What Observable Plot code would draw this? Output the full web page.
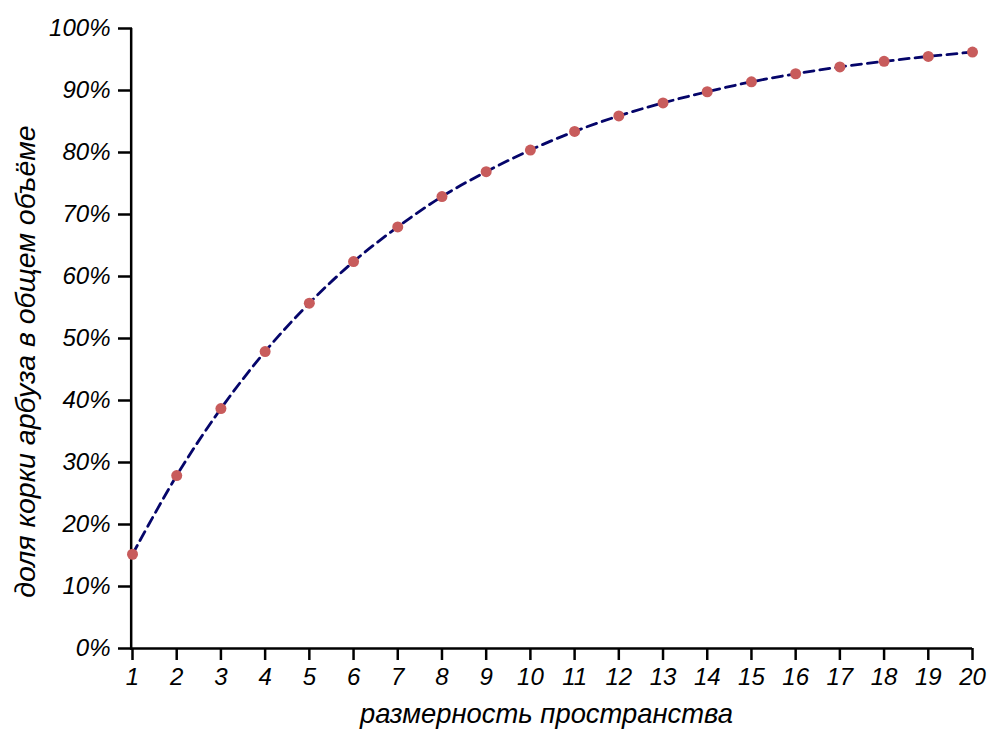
<!DOCTYPE html>
<html><head><meta charset="utf-8">
<script src="https://cdn.jsdelivr.net/npm/d3@7"></script>
<script src="https://cdn.jsdelivr.net/npm/@observablehq/plot@0.6"></script>
<style>
html,body{margin:0;padding:0;background:#fff;}
</style></head>
<body><div id="chart"></div>
<script>
const dims = [1,2,3,4,5,6,7,8,9,10,11,12,13,14,15,16,17,18,19,20];
const share = [0.152,0.279,0.387,0.479,0.557,0.624,0.680,0.729,0.769,0.804,0.834,0.859,0.880,0.898,0.914,0.927,0.938,0.947,0.955,0.962];
const yTicks = [0,0.1,0.2,0.3,0.4,0.5,0.6,0.7,0.8,0.9,1.0];
const xTitle = "размерность пространства";
const yTitle = "доля корки арбуза в общем объёме";

const data = dims.map((d,i)=>({d, v: share[i]}));
const font = "'Liberation Sans', Arial, sans-serif";

const chart = Plot.plot({
  width: 1002, height: 732,
  marginLeft: 132, marginRight: 30, marginTop: 28, marginBottom: 84,
  style: {fontFamily: font, fontStyle: "italic", fontSize: "24px", color: "#000", background: "#fff"},
  x: {domain: [1,20]},
  y: {domain: [0,1]},
  marks: [
    Plot.axisX({ticks: dims, tickSize: 12, tickPadding: 7, strokeWidth: 2.5, label: null, tickFormat: d=>String(d), fontSize: 24}),
    Plot.axisY({ticks: yTicks, tickSize: 14, tickPadding: 8, strokeWidth: 2.5, label: null, tickFormat: d=>Math.round(d*100)+"%", fontSize: 24}),
    Plot.ruleY([0], {x1: 0.97, x2: 20, stroke: "#000", strokeWidth: 2.5}),
    Plot.ruleX([0.97], {y1: -0.003, y2: 1, stroke: "#000", strokeWidth: 2.5}),
    Plot.line(data, {x: "d", y: "v", stroke: "#05056a", strokeWidth: 2.8, strokeDasharray: "10,6", curve: "catmull-rom"}),
    Plot.dot(data, {x: "d", y: "v", r: 5.5, fill: "#c85c5c", stroke: "none"}),
    Plot.text([xTitle], {frameAnchor: "bottom", dy: 74, dx: -6, fontSize: 27.4, fill: "#000"}),
    Plot.text([yTitle], {frameAnchor: "left", textAnchor: "middle", dx: -107, dy: 23, rotate: -90, fontSize: 28.5, fill: "#000"})
  ]
});
document.getElementById("chart").appendChild(chart);
</script>
</body></html>
